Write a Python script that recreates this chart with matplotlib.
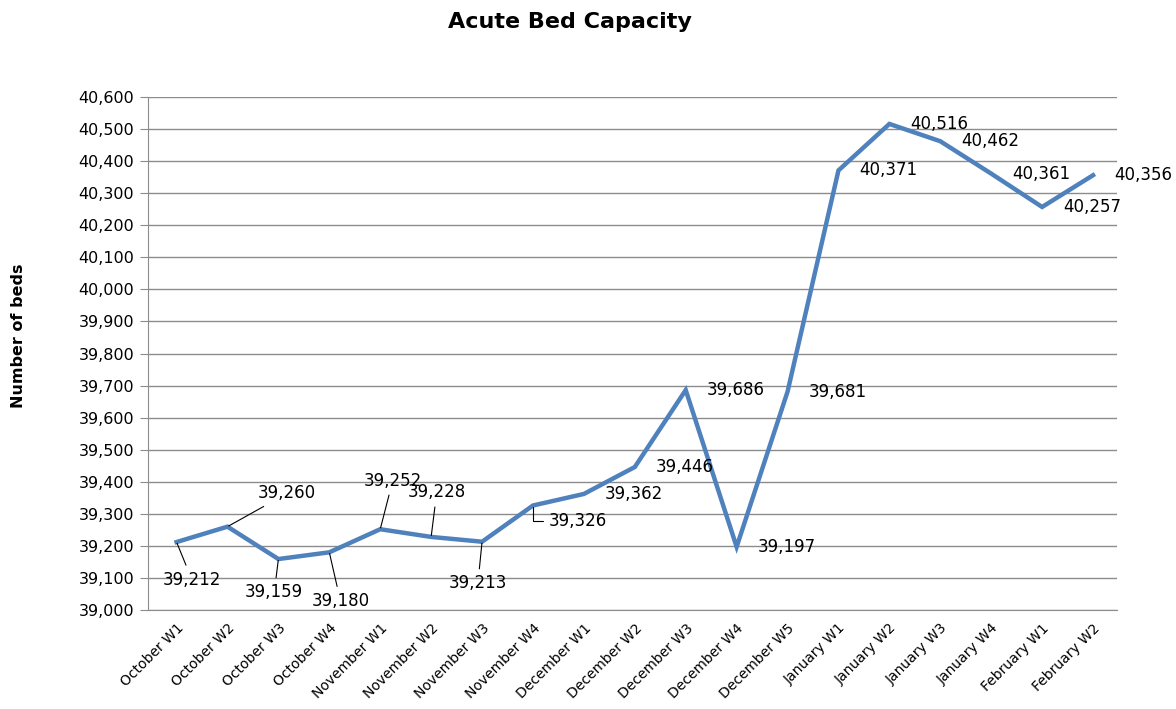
import numpy as np
import matplotlib.pyplot as plt
from matplotlib.ticker import FuncFormatter, MultipleLocator

# Data
weeks = ['October W1', 'October W2', 'October W3', 'October W4',
         'November W1', 'November W2', 'November W3', 'November W4',
         'December W1', 'December W2', 'December W3', 'December W4', 'December W5',
         'January W1', 'January W2', 'January W3', 'January W4',
         'February W1', 'February W2']
beds = [39212, 39260, 39159, 39180,
        39252, 39228, 39213, 39326,
        39362, 39446, 39686, 39197, 39681,
        40371, 40516, 40462, 40361,
        40257, 40356]

# label offsets (points) for the first weeks, which have leader lines
leader_offsets = [(11, -27), (43, 24), (-3, -24), (8, -35),
                  (9, 35), (4, 32), (-3, -30), (32, -11)]

line_color = '#4F81BD'
grid_color = '#8C8C8C'

fig = plt.figure(figsize=(11.76, 7.09), dpi=100)
ax = fig.add_axes([0.1259, 0.1396, 0.8239, 0.7236])

x = np.arange(len(weeks))
ax.plot(x, beds, color=line_color, lw=3.2, solid_joinstyle='miter', zorder=3)

ax.set_xlim(-0.56, 18.47)
ax.set_ylim(39000, 40600)
ax.yaxis.set_major_locator(MultipleLocator(100))
ax.yaxis.set_major_formatter(FuncFormatter(lambda v, p: f'{int(v):,}'))
ax.grid(axis='y', color=grid_color, lw=1.0)
ax.set_axisbelow(True)

ax.set_xticks(x)
ax.set_xticklabels(weeks, rotation=45, ha='right', rotation_mode='anchor', fontsize=10)
ax.tick_params(axis='x', length=0, pad=8)
ax.tick_params(axis='y', length=6, color=grid_color, labelsize=11.5, pad=4)

for s in ['top', 'right']:
    ax.spines[s].set_visible(False)
for s in ['left', 'bottom']:
    ax.spines[s].set_color(grid_color)

# data labels
for i, v in enumerate(beds):
    txt = f'{v:,}'
    if i < len(leader_offsets):
        dx, dy = leader_offsets[i]
        cs = 'angle,angleA=0,angleB=90,rad=0' if i == 7 else 'arc3'
        ax.annotate(txt, (i, v), xytext=(dx, dy), textcoords='offset points',
                    ha='center', va='center', fontsize=12,
                    arrowprops=dict(arrowstyle='-', color='black', lw=0.8,
                                    shrinkA=2, shrinkB=1, connectionstyle=cs))
    else:
        ax.annotate(txt, (i, v), xytext=(15, 0), textcoords='offset points',
                    ha='left', va='center', fontsize=12)

fig.text(0.485, 0.969, 'Acute Bed Capacity', ha='center', va='center',
         fontsize=16, fontweight='bold')
fig.text(0.016, 0.527, 'Number of beds', ha='center', va='center',
         rotation=90, fontsize=11.5, fontweight='bold')

fig.savefig('out.png', dpi=100)
